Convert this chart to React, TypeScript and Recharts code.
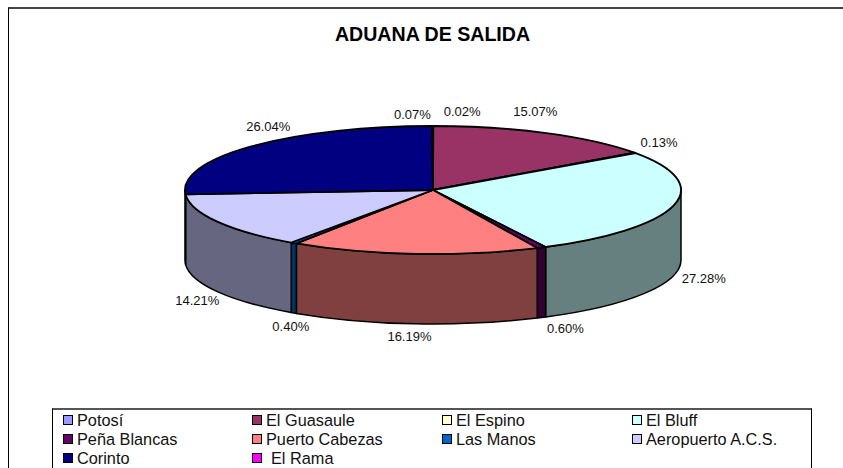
import { PieChart, Pie, Legend } from 'recharts';

const categories = ['Potosí', 'El Guasaule', 'El Espino', 'El Bluff', 'Peña Blancas', 'Puerto Cabezas', 'Las Manos', 'Aeropuerto A.C.S.', 'Corinto', 'El Rama'];
const shares = [0.02, 15.07, 0.13, 27.28, 0.6, 16.19, 0.4, 14.21, 26.04, 0.07];
const topColors = ['#9999FF', '#993366', '#FFFFCC', '#CCFFFF', '#660066', '#FF8080', '#0066CC', '#CCCCFF', '#000080', '#FF00FF'];
const wallColors = ['#4D4D80', '#4D1A33', '#808066', '#668080', '#330033', '#804040', '#003366', '#666680', '#000040', '#800080'];

const data = categories.map((name, i) => ({ name, value: shares[i] }));

const CX = 433;
const CY = 190;
const RX = 248;
const RY = 64;
const DEPTH = 70;

// label offset from the rim point of each slice (Excel placed them by hand)
const labelNudge = [
  [29, -15], [-11, -22], [24, -10], [30, 73], [24, 81],
  [-5, 83], [-3, 84], [-20, 79], [17, -20], [-20, -12],
];

const rad = (deg: number) => (deg * Math.PI) / 180;
const rimX = (deg: number) => CX + RX * Math.cos(rad(deg));
const rimY = (deg: number) => CY - RY * Math.sin(rad(deg));

// recharts hands us circular angles, flatten them onto the ellipse
function TopSlice(props: any) {
  const { startAngle, endAngle, index } = props;
  const large = Math.abs(startAngle - endAngle) > 180 ? 1 : 0;
  const d = `M${CX},${CY} L${rimX(startAngle)},${rimY(startAngle)} A${RX},${RY} 0 ${large} 1 ${rimX(endAngle)},${rimY(endAngle)} Z`;
  return <path d={d} fill={topColors[index]} stroke="#000" strokeWidth={1.8} strokeLinejoin="round" />;
}

// angles run 90 .. -270, only the front half (0 .. -180) has a visible wall
function WallSlice(props: any) {
  const { startAngle, endAngle, index } = props;
  const hi = Math.min(startAngle, 0);
  const lo = Math.max(endAngle, -180);
  if (hi <= lo) return null;
  const d = `M${rimX(hi)},${rimY(hi)} A${RX},${RY} 0 0 1 ${rimX(lo)},${rimY(lo)} L${rimX(lo)},${rimY(lo) + DEPTH} A${RX},${RY} 0 0 0 ${rimX(hi)},${rimY(hi) + DEPTH} Z`;
  return <path d={d} fill={wallColors[index]} stroke="#000" strokeWidth={1.5} strokeLinejoin="round" />;
}

function SliceLabel(props: any) {
  const { midAngle, value, index } = props;
  const [dx, dy] = labelNudge[index];
  return (
    <text x={rimX(midAngle) + dx} y={rimY(midAngle) + dy} textAnchor="middle" dominantBaseline="central" fontSize={13} fontFamily="'Liberation Sans', Arial, sans-serif" fill="#111">
      {value.toFixed(2)}%
    </text>
  );
}

const legendCols = [63, 252, 442, 632];
const legendRows = [415, 434, 453];

function LegendBox() {
  return (
    <div style={{ position: 'absolute', left: 0, top: 0, width: 843, height: 468, pointerEvents: 'none' }}>
      {categories.map((name, i) => (
        <div key={name} style={{ position: 'absolute', left: legendCols[i % 4], top: legendRows[Math.floor(i / 4)], whiteSpace: 'pre', display: 'flex', alignItems: 'center', height: 10 }}>
          <span style={{ width: 8, height: 8, marginRight: 4, background: topColors[i], border: '1.5px solid #000', display: 'inline-block' }} />
          <span style={{ fontSize: 16.3, lineHeight: '10px', color: '#111', fontFamily: "'Liberation Sans', Arial, sans-serif", marginLeft: name === 'El Rama' ? 5 : 0 }}>{name}</span>
        </div>
      ))}
    </div>
  );
}

export default function App() {
  return (
    <div style={{ position: 'absolute', left: 0, top: 0, width: 843, height: 468, overflow: 'hidden', background: '#fff' }}>
      <div style={{ position: 'absolute', left: 8, top: 7, width: 860, height: 480, borderLeft: '1px solid #000', borderTop: '2px solid #444', boxSizing: 'border-box' }} />
      <div style={{ position: 'absolute', left: 52, top: 408, width: 760, height: 70, borderLeft: '1px solid #000', borderRight: '1px solid #000', borderTop: '2px solid #555', boxSizing: 'border-box' }} />
      <div style={{ position: 'absolute', left: 0, top: 24, width: 865, textAlign: 'center', fontFamily: "'Liberation Sans', Arial, sans-serif", fontWeight: 'bold', fontSize: 19.6, lineHeight: '20px', color: '#000' }}>
        ADUANA DE SALIDA
      </div>
      <PieChart width={843} height={468} margin={{ top: 0, right: 0, bottom: 0, left: 0 }} style={{ position: 'absolute', left: 0, top: 0 }}>
        <Pie data={data} dataKey="value" nameKey="name" cx={CX} cy={CY} outerRadius={RX} startAngle={90} endAngle={-270} shape={WallSlice} isAnimationActive={false} />
        <Pie data={data} dataKey="value" nameKey="name" cx={CX} cy={CY} outerRadius={RX} startAngle={90} endAngle={-270} shape={TopSlice} label={SliceLabel} labelLine={false} isAnimationActive={false} />
        <Legend content={LegendBox} wrapperStyle={{ position: 'absolute', left: 0, top: 0, width: 843, height: 468 }} />
      </PieChart>
    </div>
  );
}
